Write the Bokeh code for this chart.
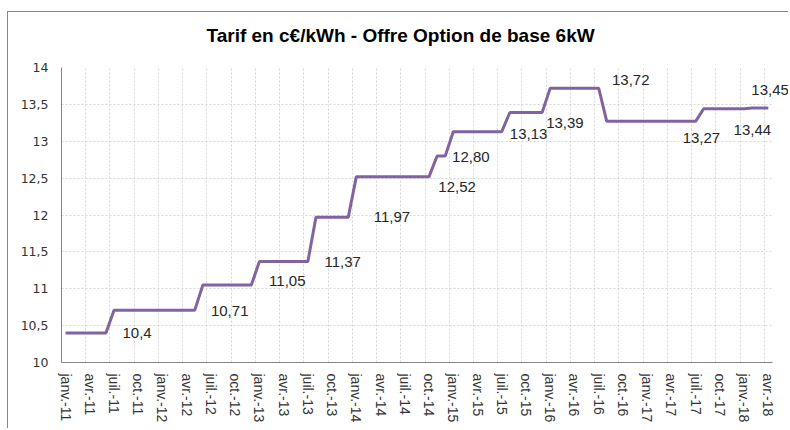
from bokeh.plotting import figure
from bokeh.models import ColumnDataSource, FixedTicker, LabelSet
from bokeh.core.properties import value
from bokeh.embed import file_html
from bokeh.resources import INLINE

# ---- data ----
tick_labels = [
    "janv.-11", "avr.-11", "juil.-11", "oct.-11",
    "janv.-12", "avr.-12", "juil.-12", "oct.-12",
    "janv.-13", "avr.-13", "juil.-13", "oct.-13",
    "janv.-14", "avr.-14", "juil.-14", "oct.-14",
    "janv.-15", "avr.-15", "juil.-15", "oct.-15",
    "janv.-16", "avr.-16", "juil.-16", "oct.-16",
    "janv.-17", "avr.-17", "juil.-17", "oct.-17",
    "janv.-18", "avr.-18",
]

# monthly tariff (c€/kWh), Jan 2011 .. Apr 2018
tarif = [
    10.40, 10.40, 10.40, 10.40, 10.40, 10.40, 10.71, 10.71, 10.71, 10.71, 10.71, 10.71,  # 2011
    10.71, 10.71, 10.71, 10.71, 10.71, 11.05, 11.05, 11.05, 11.05, 11.05, 11.05, 11.05,  # 2012
    11.37, 11.37, 11.37, 11.37, 11.37, 11.37, 11.37, 11.97, 11.97, 11.97, 11.97, 11.97,  # 2013
    12.52, 12.52, 12.52, 12.52, 12.52, 12.52, 12.52, 12.52, 12.52, 12.52, 12.80, 12.80,  # 2014
    13.13, 13.13, 13.13, 13.13, 13.13, 13.13, 13.13, 13.39, 13.39, 13.39, 13.39, 13.39,  # 2015
    13.72, 13.72, 13.72, 13.72, 13.72, 13.72, 13.72, 13.27, 13.27, 13.27, 13.27, 13.27,  # 2016
    13.27, 13.27, 13.27, 13.27, 13.27, 13.27, 13.27, 13.44, 13.44, 13.44, 13.44, 13.44,  # 2017
    13.44, 13.45, 13.45, 13.45,                                                          # 2018
]

label_texts = ["10,4", "10,71", "11,05", "11,37", "11,97", "12,52", "12,80",
               "13,13", "13,39", "13,72", "13,27", "13,44", "13,45"]
label_values = [10.40, 10.71, 11.05, 11.37, 11.97, 12.52, 12.80,
                13.13, 13.39, 13.72, 13.27, 13.44, 13.45]
label_months = [7.55, 18.5, 25.7, 32.55, 38.65, 46.65, 48.35,
                55.5, 60.0, 68.15, 76.9, 83.2, 85.4]

y_ticks = [10, 10.5, 11, 11.5, 12, 12.5, 13, 13.5, 14]
y_tick_labels = ["10", "10,5", "11", "11,5", "12", "12,5", "13", "13,5", "14"]

title_text = "Tarif en c€/kWh - Offre Option de base 6kW"

# ---- styles ----
label_dy = [0, 1, -4, 1, 0, 10, 1, 2, 11, -8, 17, 21, -18]   # px, + = down
PURPLE = "#8064A2"
GRID = "#d6d6d6"
AXIS = "#868686"
TXT = "#333333"
FRAME = "#8a7fa0"

n = len(tarif)
xs = [i + 0.5 for i in range(n)]

p = figure(width=788, height=428, x_range=(0, n + 2), y_range=(10, 14),
           output_backend="svg", toolbar_location=None,
           min_border_left=61, min_border_right=0,
           min_border_top=67, min_border_bottom=66)
p.outline_line_color = None
p.background_fill_color = "white"
p.border_fill_alpha = 0
p.styles = {
    "background": (f"linear-gradient({FRAME}, {FRAME}) 7px 11px / 1px calc(100% - 11px) no-repeat, "
                   f"linear-gradient({FRAME}, {FRAME}) 7px 11px / calc(100% - 7px) 1px no-repeat, "
                   "#ffffff"),
}

p.title.text = title_text
p.title.text_font = "Liberation Sans"
p.title.text_font_size = "19px"
p.title.text_font_style = "bold"
p.title.text_color = "#000000"
p.title.align = "left"
p.title.offset = 145
p.title.standoff = 43

# x axis
xt = [3 * k + 0.5 for k in range(len(tick_labels))]
p.xaxis.bounds = (0, n)
p.xaxis.ticker = FixedTicker(ticks=xt)
p.xaxis.major_label_overrides = {t: lab for t, lab in zip(xt, tick_labels)}
p.xaxis.major_label_orientation = "vertical"
p.xaxis.major_label_text_font = "Liberation Sans"
p.xaxis.major_label_text_font_size = "14px"
p.xaxis.major_label_text_color = TXT
p.xaxis.major_label_standoff = 11
p.xaxis.major_tick_out = 0
p.xaxis.major_tick_in = 0
p.xaxis.major_tick_line_color = None
p.xaxis.minor_tick_line_color = None
p.xaxis.axis_line_color = AXIS

# y axis
p.yaxis.ticker = FixedTicker(ticks=y_ticks)
p.yaxis.major_label_overrides = {t: lab for t, lab in zip(y_ticks, y_tick_labels)}
p.yaxis.major_label_text_font = "DejaVu Sans"
p.yaxis.major_label_text_font_size = "12.5px"
p.yaxis.major_label_text_color = TXT
p.yaxis.major_label_standoff = 13
p.yaxis.major_tick_out = 0
p.yaxis.major_tick_in = 0
p.yaxis.major_tick_line_color = None
p.yaxis.minor_tick_line_color = None
p.yaxis.axis_line_color = AXIS

# grids
p.xgrid.ticker = FixedTicker(ticks=[3 * k for k in range(1, len(tick_labels))])
p.ygrid.ticker = FixedTicker(ticks=y_ticks[1:])
p.ygrid.cross_bounds = (0, n)
for g in (p.xgrid, p.ygrid):
    g.grid_line_color = GRID
    g.grid_line_dash = "2 2"
    g.grid_line_width = 1

p.line(xs, tarif, line_color=PURPLE, line_width=3)

src = ColumnDataSource(dict(x=label_months, y=label_values, t=label_texts,
                            dy=[-d for d in label_dy]))
p.add_layout(LabelSet(x="x", y="y", text="t", source=src, y_offset="dy",
                      text_font=value("Liberation Sans"), text_font_size="15px",
                      text_align="left", text_baseline="middle",
                      text_color="#262626"))

open("out.html", "w").write(file_html(p, INLINE))
